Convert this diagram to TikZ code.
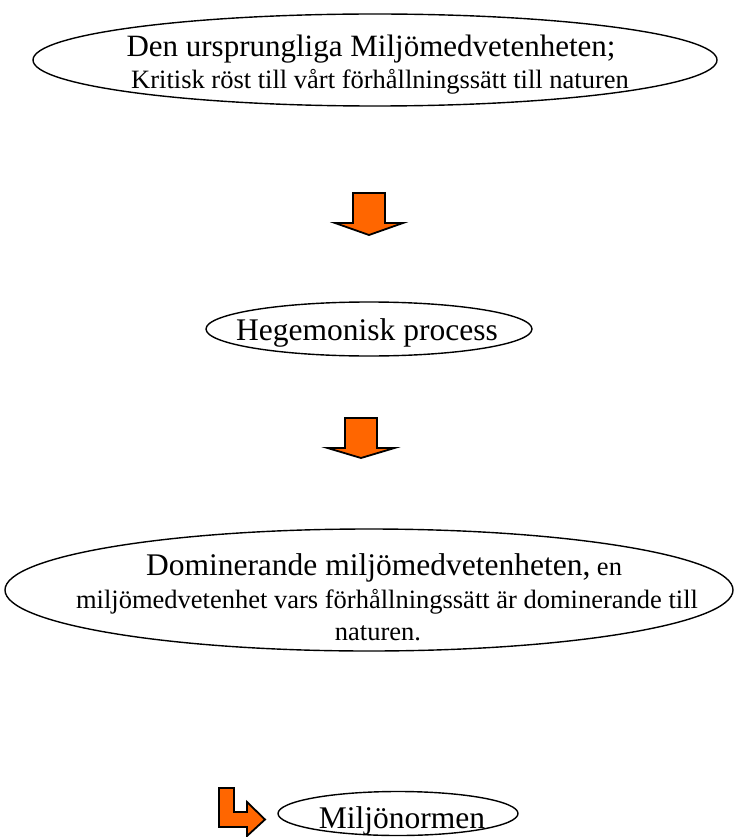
\documentclass[tikz,border=0pt]{standalone}
\usepackage{fontspec}
\setmainfont{Liberation Serif}
\usetikzlibrary{shapes.geometric}
\definecolor{arroworange}{HTML}{FF6600}
\tikzset{
  ell/.style={draw=black, line width=1.4pt, ellipse, inner sep=0pt},
  bigtext/.style={font=\fontsize{31.5}{36}\selectfont, anchor=base, inner sep=0pt},
  smalltext/.style={font=\fontsize{26.5}{30}\selectfont, anchor=base, inner sep=0pt},
  blockarrow/.style={fill=arroworange, draw=black, line width=1.8pt, line join=miter},
}
\begin{document}
\begin{tikzpicture}[x=1pt,y=-1pt]
\useasboundingbox (0,0) rectangle (737,837);

% Ellipse 1
\node[ell, minimum width=684pt, minimum height=92pt] (e1) at (375,60) {};
\node[bigtext, font=\fontsize{31}{36}\selectfont] (e1a) at (371,57) {Den ursprungliga Miljömedvetenheten;};
\node[smalltext] (e1b) at (380,89) {Kritisk röst till vårt förhållningssätt till naturen};

% Arrow 1
\coordinate (a1) at (369,193);
\begin{scope}[shift={(a1)}]
  \draw[blockarrow] (-16,0) -- (16,0) -- (16,30) -- (34,30) -- (0,42) -- (-34,30) -- (-16,30) -- cycle;
\end{scope}

% Ellipse 2
\node[ell, minimum width=326pt, minimum height=54pt] (e2) at (369,329) {};
\node[bigtext] (e2a) at (367,340) {Hegemonisk process};

% Arrow 2
\coordinate (a2) at (361,418);
\begin{scope}[shift={(a2)}]
  \draw[blockarrow] (-16,0) -- (16,0) -- (16,30) -- (33.5,30) -- (0,40) -- (-33.5,30) -- (-16,30) -- cycle;
\end{scope}

% Ellipse 3
\node[ell, minimum width=728pt, minimum height=122pt] (e3) at (369,590) {};
\node[bigtext] (e3a) at (384,575) {Dominerande miljömedvetenheten,{\fontsize{26.5}{30}\selectfont{} en}};
\node[smalltext] (e3b) at (387,608) {miljömedvetenhet vars förhållningssätt är dominerande till};
\node[smalltext] (e3c) at (378,640) {naturen.};

% Bent arrow
\coordinate (a3) at (219,788);
\begin{scope}[shift={(a3)}]
  \draw[blockarrow] (0,0) -- (15,0) -- (15,24) -- (28,24) -- (28,14) -- (46,31.5) -- (28,48) -- (28,39) -- (0,39) -- cycle;
\end{scope}

% Ellipse 4
\node[ell, minimum width=240pt, minimum height=44pt] (e4) at (398,813.5) {};
\node[bigtext] (e4a) at (402,828) {Miljönormen};
\end{tikzpicture}
\end{document}
